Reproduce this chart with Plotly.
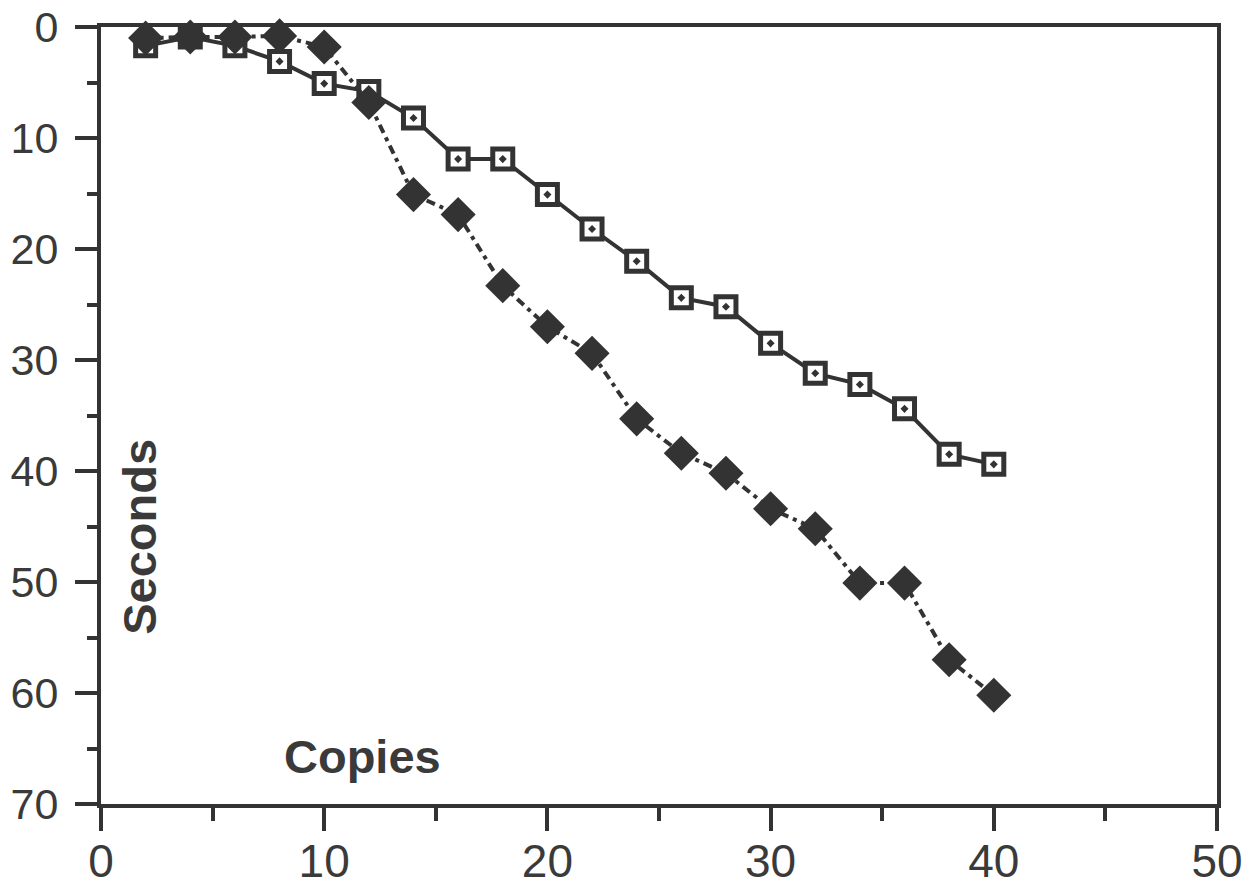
import plotly.graph_objects as go

copies = [2, 4, 6, 8, 10, 12, 14, 16, 18, 20, 22, 24, 26, 28, 30, 32, 34, 36, 38, 40]
seconds_squares = [1.7, 0.9, 1.7, 3.1, 5.1, 5.8, 8.2, 11.9, 11.9, 15.1, 18.2, 21.1, 24.4, 25.2,
                   28.5, 31.2, 32.2, 34.4, 38.5, 39.4]
seconds_diamonds = [1.0, 0.9, 0.9, 0.8, 1.8, 6.8, 15.1, 16.9, 23.3, 27.0, 29.4, 35.3, 38.4, 40.2,
                    43.4, 45.2, 50.1, 50.1, 57.0, 60.2]
x_ticks = [0, 10, 20, 30, 40, 50]
y_ticks = [0, 10, 20, 30, 40, 50, 60, 70]

INK = "#333333"
TXT = "#3a3a3a"
FONT = "Liberation Sans, Arial, Helvetica, sans-serif"

fig = go.Figure()
fig.add_trace(go.Scatter(
    x=copies, y=seconds_squares, mode="lines+markers",
    line=dict(color=INK, width=4),
    marker=dict(symbol="square-dot", size=20, color="white",
                line=dict(color=INK, width=5)),
    cliponaxis=False, showlegend=False,
))
fig.add_trace(go.Scatter(
    x=copies, y=seconds_diamonds, mode="lines+markers",
    line=dict(color=INK, width=4, dash="9px,5px,4px,5px"),
    marker=dict(symbol="diamond", size=27, color=INK, line=dict(width=0)),
    cliponaxis=False, showlegend=False,
))

fig.update_layout(
    width=1254, height=888,
    margin=dict(l=101, r=37, t=27, b=84, autoexpand=False),
    paper_bgcolor="white", plot_bgcolor="white",
    font=dict(family=FONT, color=TXT),
    annotations=[
        dict(text="<b>Seconds</b>", xref="paper", yref="paper", x=0.035, y=0.344,
             xanchor="center", yanchor="middle",
             textangle=-90, showarrow=False, font=dict(size=47, color=TXT, family=FONT)),
        dict(text="<b>Copies</b>", xref="paper", yref="paper", x=0.234, y=0.0605,
             xanchor="center", yanchor="middle",
             showarrow=False, font=dict(size=47, color=TXT, family=FONT)),
    ],
)
fig.update_xaxes(
    range=[0, 50], tickvals=x_ticks, ticktext=[str(v) for v in x_ticks],
    showgrid=False, zeroline=False, automargin=False,
    showline=True, linewidth=4, linecolor=INK, mirror=True,
    ticks="outside", ticklen=23, tickwidth=4, tickcolor=INK,
    minor=dict(dtick=5, ticks="outside", ticklen=13, tickwidth=4, tickcolor=INK, showgrid=False),
    tickfont=dict(size=46, color=TXT, family=FONT),
    ticklabelstandoff=-9,
)
fig.update_yaxes(
    range=[70, 0], tickvals=y_ticks, ticktext=[str(v) for v in y_ticks],
    showgrid=False, zeroline=False, automargin=False,
    showline=True, linewidth=4, linecolor=INK, mirror=True,
    ticks="outside", ticklen=22, tickwidth=4, tickcolor=INK,
    minor=dict(dtick=5, ticks="outside", ticklen=10, tickwidth=4, tickcolor=INK, showgrid=False),
    tickfont=dict(size=43, color=TXT, family=FONT),
    ticklabelstandoff=8,
)

# remove the default 8px page margin so the figure fills the 1254x888 window exactly
fig.write_html("out.html",
               config={"displayModeBar": False},
               post_script="document.body.style.margin='0';document.body.style.overflow='hidden';")
